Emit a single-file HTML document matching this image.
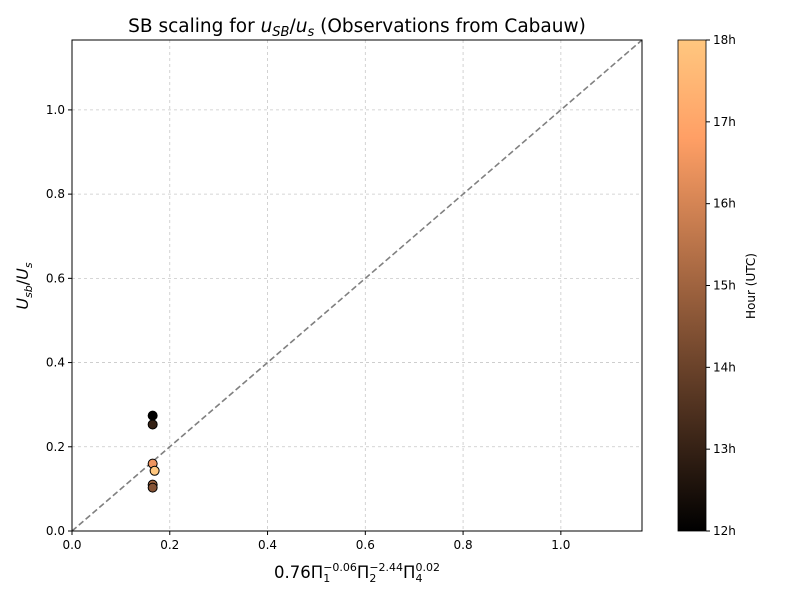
<!DOCTYPE html>
<html><head><meta charset="utf-8"><style>
body{margin:0;background:#fff;font-family:"Liberation Sans","DejaVu Sans",sans-serif}
text{font-family:"DejaVu Sans","Liberation Sans",sans-serif}
</style></head><body>
<svg id="c" width="800" height="600" xmlns="http://www.w3.org/2000/svg">
<defs><linearGradient id="cg" x1="0" y1="1" x2="0" y2="0">
<stop offset="0" stop-color="rgb(0,0,0)"/><stop offset="0.8" stop-color="rgb(255,159,101)"/><stop offset="1" stop-color="rgb(255,199,127)"/>
</linearGradient></defs>
</svg>
<script>
const xVals=[0.165,0.165,0.165,0.169,0.165,0.165];
const yVals=[0.274,0.253,0.160,0.143,0.110,0.103];
const hours=[12,13,16.5,18,15,14.5];
const xTicks=[0,0.2,0.4,0.6,0.8,1.0];
const yTicks=[0,0.2,0.4,0.6,0.8,1.0];
const xTickLabels=["0.0","0.2","0.4","0.6","0.8","1.0"];
const yTickLabels=["0.0","0.2","0.4","0.6","0.8","1.0"];
const cTicks=[12,13,14,15,16,17,18];
const cTickLabels=["12h","13h","14h","15h","16h","17h","18h"];
const L=72,R=642,T=40,B=531,MAX=1.166;
const sx=v=>L+v/MAX*(R-L), sy=v=>B-v/MAX*(B-T);
const svg=document.getElementById('c');const NS="http://www.w3.org/2000/svg";
function mk(t,a,txt){const e=document.createElementNS(NS,t);for(const k in a)e.setAttribute(k,a[k]);if(txt!=null)e.textContent=txt;svg.appendChild(e);return e;}
function cmap(h){const t=(h-12)/6;return `rgb(${Math.round(255*Math.min(1,1.25*t))},${Math.round(255*0.7812*t)},${Math.round(255*0.4975*t)})`;}
let e;
xTicks.forEach((v,i)=>{
e=mk('line',{x1:sx(v),x2:sx(v),y1:T,y2:B,stroke:'#c8c8c8','stroke-dasharray':'3,3','stroke-width':0.8});

e=mk('line',{x1:sx(v),x2:sx(v),y1:B,y2:B+4,stroke:'#000'});

e=mk('text',{x:sx(v),y:B+18,'text-anchor':'middle','font-size':12},xTickLabels[i]);

});
yTicks.forEach((v,i)=>{
e=mk('line',{x1:L,x2:R,y1:sy(v),y2:sy(v),stroke:'#c8c8c8','stroke-dasharray':'3,3','stroke-width':0.8});

e=mk('line',{x1:L-4,x2:L,y1:sy(v),y2:sy(v),stroke:'#000'});

e=mk('text',{x:L-7,y:sy(v)+4,'text-anchor':'end','font-size':12},yTickLabels[i]);

});
e=mk('line',{x1:sx(0),y1:sy(0),x2:sx(MAX),y2:sy(MAX),stroke:'#808080','stroke-width':1.6,'stroke-dasharray':'6,3'});

xVals.forEach((x,i)=>{
e=mk('circle',{cx:sx(x),cy:sy(yVals[i]),r:4.5,fill:cmap(hours[i]),stroke:'#000','stroke-width':1});

});
e=mk('rect',{x:L,y:T,width:R-L,height:B-T,fill:'none',stroke:'#000','stroke-width':1});

e=mk('rect',{x:678,y:T,width:28,height:B-T,fill:'url(#cg)',stroke:'#000','stroke-width':0.8});

cTicks.forEach((h,i)=>{const y=B-(h-12)/6*(B-T);
e=mk('line',{x1:706,x2:710,y1:y,y2:y,stroke:'#000'});

e=mk('text',{x:713,y:y+4,'font-size':12},cTickLabels[i]);

});
e=mk('text',{x:755,y:286,'font-size':12,'text-anchor':'middle',transform:'rotate(-90 755 286)'},'Hour (UTC)');

</script>
<svg width="800" height="600" style="position:absolute;left:0;top:0" xmlns="http://www.w3.org/2000/svg">
<text x="357" y="32" text-anchor="middle" font-size="18.5" font-family="DejaVu Sans">SB scaling for <tspan font-style="italic">u</tspan><tspan font-size="13" dy="4" font-style="italic">SB</tspan><tspan dy="-4">/</tspan><tspan font-style="italic">u</tspan><tspan font-size="13" dy="4" font-style="italic">s</tspan><tspan dy="-4"> (Observations from Cabauw)</tspan></text>
<text x="357" y="578" text-anchor="middle" font-size="16.5" font-family="DejaVu Sans">0.76Π<tspan font-size="11" dy="4">1</tspan><tspan font-size="11" dx="-7" dy="-11">−0.06</tspan><tspan dy="7">Π</tspan><tspan font-size="11" dy="4">2</tspan><tspan font-size="11" dx="-7" dy="-11">−2.44</tspan><tspan dy="7">Π</tspan><tspan font-size="11" dy="4">4</tspan><tspan font-size="11" dx="-7" dy="-11">0.02</tspan></text>
<text x="28" y="286" text-anchor="middle" font-size="16" font-family="DejaVu Sans" transform="rotate(-90 28 286)"><tspan font-style="italic">U</tspan><tspan font-size="11" dy="4" font-style="italic">sb</tspan><tspan dy="-4">/</tspan><tspan font-style="italic">U</tspan><tspan font-size="11" dy="4" font-style="italic">s</tspan></text>
</svg>
</body></html>
